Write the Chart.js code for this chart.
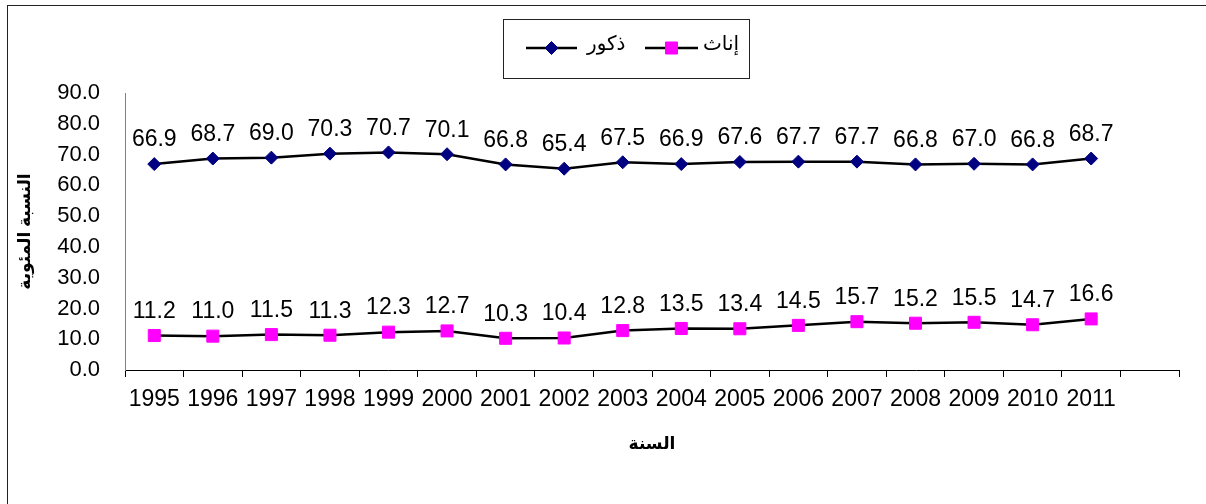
<!DOCTYPE html>
<html>
<head>
<meta charset="utf-8">
<script src="https://cdn.jsdelivr.net/npm/chart.js@4"></script>
<style>
  html, body { margin: 0; padding: 0; background: #fff; }
  #wrap { width: 1206px; height: 504px; }
</style>
</head>
<body>
<div id="wrap"><canvas id="chart" width="1206" height="504"></canvas></div>
<script>
// data
var years = ['1995', '1996', '1997', '1998', '1999', '2000', '2001', '2002', '2003',
             '2004', '2005', '2006', '2007', '2008', '2009', '2010', '2011', ''];
var males = [66.9, 68.7, 69.0, 70.3, 70.7, 70.1, 66.8, 65.4, 67.5, 66.9, 67.6, 67.7, 67.7, 66.8, 67.0, 66.8, 68.7, null];
var females = [11.2, 11.0, 11.5, 11.3, 12.3, 12.7, 10.3, 10.4, 12.8, 13.5, 13.4, 14.5, 15.7, 15.2, 15.5, 14.7, 16.6, null];
var seriesNames = ['ذكور', 'إناث'];
var xTitle = 'السنة';
var yTitle = 'النسبة المئوية';

var FONT = "'Liberation Sans', Arial, 'DejaVu Sans', sans-serif";

// value labels above each point
var valueLabels = {
    id: 'valueLabels',
    afterDatasetsDraw: function(chart) {
        var ctx = chart.ctx;
        ctx.save();
        ctx.font = '23px ' + FONT;
        ctx.fillStyle = '#000';
        ctx.textAlign = 'center';
        ctx.textBaseline = 'middle';
        chart.data.datasets.forEach(function(ds, i) {
            var meta = chart.getDatasetMeta(i);
            meta.data.forEach(function(pt, j) {
                var v = ds.data[j];
                if (v === null || v === undefined) return;
                ctx.fillText(v.toFixed(1), pt.x, pt.y - 24);
            });
        });
        ctx.restore();
    }
};

// outer frame + boxed legend like the original
var frameAndLegend = {
    id: 'frameAndLegend',
    afterDraw: function(chart) {
        var ctx = chart.ctx;
        ctx.save();
        ctx.strokeStyle = '#222';
        ctx.lineWidth = 1;
        ctx.strokeRect(7.5, 5.5, 1300, 600);
        ctx.strokeRect(503.5, 19.5, 246, 59);

        var items = [
            {x1: 526, x2: 577, tx: 587, ds: chart.data.datasets[0]},
            {x1: 645, x2: 698, tx: 703, ds: chart.data.datasets[1]}
        ];
        var y = 48;
        items.forEach(function(it) {
            ctx.strokeStyle = '#000';
            ctx.lineWidth = 2.5;
            ctx.beginPath();
            ctx.moveTo(it.x1, y);
            ctx.lineTo(it.x2, y);
            ctx.stroke();

            ctx.fillStyle = it.ds.pointBackgroundColor;
            ctx.strokeStyle = it.ds.pointBorderColor;
            ctx.lineWidth = 1;
            Chart.helpers.drawPoint(ctx, {
                pointStyle: it.ds.pointStyle,
                radius: it.ds.pointRadius,
                borderWidth: 1
            }, (it.x1 + it.x2) / 2, y);

            ctx.fillStyle = '#000';
            ctx.font = '20px ' + FONT;
            ctx.textAlign = 'left';
            ctx.textBaseline = 'middle';
            ctx.fillText(it.ds.label, it.tx, y - 4);
        });
        ctx.restore();
    }
};

new Chart(document.getElementById('chart'), {
    type: 'line',
    data: {
        labels: years,
        datasets: [{
            label: seriesNames[0],
            data: males,
            borderColor: '#000',
            borderWidth: 2.5,
            tension: 0,
            pointStyle: 'rectRot',
            pointRadius: 6.5,
            pointBackgroundColor: '#000080',
            pointBorderColor: '#000080',
            pointBorderWidth: 1
        }, {
            label: seriesNames[1],
            data: females,
            borderColor: '#000',
            borderWidth: 2.5,
            tension: 0,
            pointStyle: 'rect',
            pointRadius: 8.5,
            pointBackgroundColor: '#ff00ff',
            pointBorderColor: '#ff00ff',
            pointBorderWidth: 1
        }]
    },
    options: {
        responsive: false,
        animation: false,
        layout: { padding: { top: 93, right: 27, bottom: 48, left: 0 } },
        plugins: {
            legend: { display: false },
            tooltip: { enabled: false }
        },
        scales: {
            x: {
                offset: true,
                grid: { display: true, offset: true, drawOnChartArea: false, drawTicks: true, tickLength: 7, color: '#000' },
                border: { display: true, color: '#000', width: 1 },
                ticks: { color: '#000', font: { family: FONT, size: 23 }, padding: 9, maxRotation: 0, autoSkip: false },
                title: { display: true, text: xTitle, color: '#000', font: { family: FONT, size: 17, weight: 'bold' }, padding: { top: 0, bottom: 1 } },
                afterFit: function(scale) { scale.height = 86; }
            },
            y: {
                min: 0,
                max: 90,
                grid: { display: false, drawTicks: false },
                border: { display: true, color: '#808080', width: 1 },
                ticks: {
                    stepSize: 10,
                    color: '#000',
                    font: { family: FONT, size: 22 },
                    padding: 25,
                    callback: function(v) { return v.toFixed(1); }
                },
                title: { display: true, text: yTitle, color: '#000', font: { family: FONT, size: 17, weight: 'bold' }, padding: { top: 15, bottom: 0 } },
                afterFit: function(scale) { scale.width = 125; }
            }
        }
    },
    plugins: [valueLabels, frameAndLegend]
});
</script>
</body>
</html>
